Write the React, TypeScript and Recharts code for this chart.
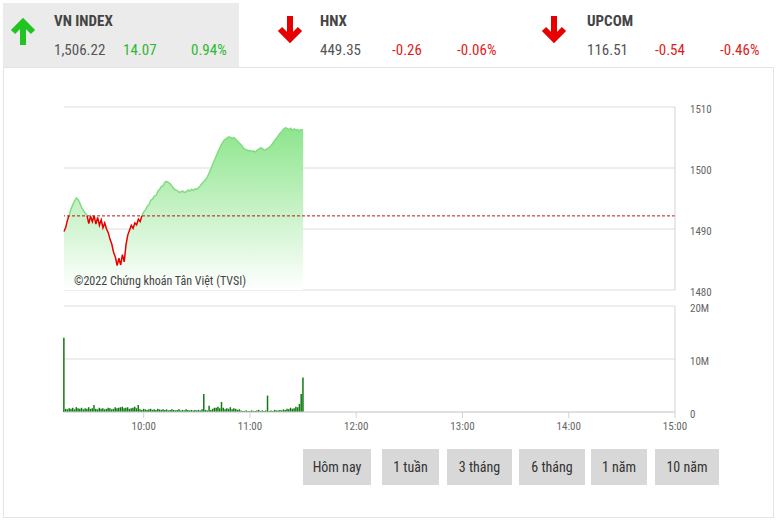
import React from "react";
import { Area, Bar, BarChart, CartesianGrid, ComposedChart, ReferenceLine, XAxis, YAxis } from "recharts";

const FONT = '"Roboto Condensed", "Liberation Sans Narrow", "DejaVu Sans Condensed", Roboto, sans-serif';

const prevClose = 1492.15;
const priceTicks = [1480, 1490, 1500, 1510];
const volumeTicks = [0, 10, 20];
const timeTicks = [600, 660, 720, 780, 840, 900];
const periods = ["Hôm nay", "1 tuần", "3 tháng", "6 tháng", "1 năm", "10 năm"];

// one value per minute from 9:15 to 11:30
const prices = [
  1489.6, 1490.3, 1491.5, 1492.4, 1493.3, 1494.0, 1494.6, 1495.1, 1494.8, 1494.2,
  1493.5, 1493.0, 1492.6, 1492.2, 1490.9, 1492.1, 1491.2, 1492.2, 1490.8, 1491.9,
  1490.6, 1491.5, 1490.2, 1491.0, 1490.0, 1489.4, 1488.3, 1487.5, 1486.2, 1485.4,
  1484.0, 1485.2, 1484.1, 1485.8, 1484.6, 1487.4, 1489.0, 1489.8, 1490.6, 1490.1,
  1491.0, 1490.7, 1491.6, 1491.2, 1492.2, 1492.8, 1493.1, 1493.7, 1494.0, 1494.7,
  1494.9, 1495.4, 1495.5, 1496.2, 1496.5, 1497.0, 1497.1, 1497.7, 1497.8, 1497.6,
  1497.4, 1497.0, 1496.6, 1496.4, 1496.3, 1496.0, 1496.1, 1496.2, 1496.0, 1496.1,
  1496.4, 1496.2, 1496.5, 1496.3, 1496.6, 1496.5, 1496.8, 1497.1, 1497.5, 1497.8,
  1498.1, 1498.6, 1499.2, 1499.9, 1500.6, 1501.3, 1502.0, 1502.7, 1503.3, 1503.9,
  1504.4, 1504.7, 1504.9, 1505.1, 1505.0, 1504.9, 1505.0, 1504.7, 1504.4, 1504.1,
  1503.8, 1503.4, 1503.1, 1503.0, 1502.8, 1502.9, 1502.7, 1502.8, 1502.6, 1502.9,
  1503.1, 1503.3, 1503.2, 1502.9, 1503.0, 1503.2, 1503.4, 1503.7, 1504.1, 1504.5,
  1504.9, 1505.3, 1505.7, 1506.0, 1506.4, 1506.6, 1506.5, 1506.3, 1506.5, 1506.2,
  1506.4, 1506.2, 1506.3, 1506.1, 1506.3, 1506.22,
];

// volume in millions, same minutes
const volumes = [
  14.0, 0.6, 0.5, 0.7, 0.6, 0.8, 0.5, 0.9, 0.7, 0.6, 0.8, 0.5, 0.7, 0.6, 0.9, 0.6,
  0.7, 1.3, 0.6, 0.5, 0.8, 0.6, 0.7, 0.5, 0.6, 0.8, 0.7, 0.5, 0.6, 0.9, 0.7,
  0.8, 0.9, 1.0, 0.7, 0.8, 0.9, 0.6, 0.7, 0.8, 1.0, 0.7, 1.3, 0.5, 0.4, 0.6,
  0.5, 0.4, 0.5, 0.6, 0.4, 0.5, 0.4, 0.6, 0.5, 0.4, 0.5, 0.4, 0.5, 0.3, 0.4,
  0.5, 0.4, 0.3, 0.4, 0.5, 0.3, 0.4, 0.3, 0.5, 0.4, 0.3, 0.4, 0.3, 0.4, 0.3,
  0.4, 0.3, 0.5, 3.4, 0.4, 0.3, 1.2, 0.4, 0.6, 0.8, 0.8, 1.0, 0.7, 1.9, 0.8,
  0.5, 0.7, 0.6, 0.9, 0.5, 0.7, 0.6, 0.4, 0.5, 0.3, 0.2, 0.2, 0.3, 0.2, 0.2,
  0.3, 0.2, 0.2, 0.3, 0.4, 0.2, 0.3, 0.2, 0.3, 3.1, 0.2, 0.3, 0.2, 0.4, 0.3,
  0.3, 0.4, 0.3, 0.5, 0.4, 0.6, 0.5, 0.8, 0.6, 0.7, 1.0, 0.9, 1.5, 3.4, 6.5,
];

const indices = [
  { name: "VN INDEX", value: "1,506.22", change: "14.07", pct: "0.94%", up: true },
  { name: "HNX", value: "449.35", change: "-0.26", pct: "-0.06%", up: false },
  { name: "UPCOM", value: "116.51", change: "-0.54", pct: "-0.46%", up: false },
];

const data = prices.map((p, i) => ({ t: 555 + i, price: p, vol: volumes[i] }));
const pMax = Math.max(...prices);
const pMin = Math.min(...prices);
const splitAt = (pMax - prevClose) / (pMax - pMin);

const fmtTime = (v: number) => `${Math.floor(v / 60)}:${String(v % 60).padStart(2, "0")}`;

function Arrow({ up, x, y }: { up: boolean; x: number; y: number }) {
  const c = up ? "#22c422" : "#e80000";
  return (
    <svg width={26} height={28} style={{ position: "absolute", left: x, top: y }}>
      {up ? (
        <g stroke={c} strokeWidth={6} fill="none">
          <line x1={13} y1={27} x2={13} y2={6} />
          <polyline points="3,14 13,4 23,14" strokeLinejoin="miter" />
        </g>
      ) : (
        <g stroke={c} strokeWidth={6} fill="none">
          <line x1={13} y1={1} x2={13} y2={22} />
          <polyline points="3,14 13,24 23,14" strokeLinejoin="miter" />
        </g>
      )}
    </svg>
  );
}

const headerCols = [
  { x: 54, arrowX: 10, arrowY: 18, c1: 123, c2: 191 },
  { x: 320, arrowX: 277, arrowY: 15, c1: 392, c2: 457 },
  { x: 587, arrowX: 541, arrowY: 15, c1: 655, c2: 720 },
];
const buttonPos = [[303, 371], [382, 439], [447, 512], [519, 585], [591, 647], [655, 719]];

export default function App() {
  return (
    <div style={{ position: "absolute", left: 0, top: 0, width: 777, height: 520, background: "#fff", fontFamily: FONT }}>
      <div style={{ position: "absolute", left: 3, top: 3, width: 236, height: 64, background: "#ebebeb" }} />
      <div style={{ position: "absolute", left: 3, top: 67, width: 769, height: 449, border: "1px solid #e4e4e4" }} />
      {indices.map((d, i) => {
        const col = headerCols[i];
        const color = d.up ? "#2fb82f" : "#e01b1b";
        return (
          <React.Fragment key={d.name}>
            <Arrow up={d.up} x={col.arrowX} y={col.arrowY} />
            <div style={{ position: "absolute", left: col.x, top: 12, fontSize: 15, fontWeight: "bold", color: "#444" }}>{d.name}</div>
            <div style={{ position: "absolute", left: col.x, top: 41, fontSize: 15, color: "#555" }}>{d.value}</div>
            <div style={{ position: "absolute", left: col.c1, top: 41, fontSize: 15, color }}>{d.change}</div>
            <div style={{ position: "absolute", left: col.c2, top: 41, fontSize: 15, color }}>{d.pct}</div>
          </React.Fragment>
        );
      })}

      <div style={{ position: "absolute", left: 0, top: 0 }}>
        <ComposedChart width={777} height={300} data={data} margin={{ top: 107, right: 62, bottom: 10, left: 64 }}>
          <defs>
            <linearGradient id="lineSplit" x1="0" y1="0" x2="0" y2="1">
              <stop offset={splitAt} stopColor="#82dc82" />
              <stop offset={splitAt} stopColor="#e80000" />
            </linearGradient>
            <linearGradient id="fillFade" x1="0" y1="0" x2="0" y2="1">
              <stop offset="0" stopColor="#8de58d" />
              <stop offset="1" stopColor="#ffffff" />
            </linearGradient>
          </defs>
          <CartesianGrid vertical={false} stroke="#dcdcdc" />
          <XAxis dataKey="t" type="number" domain={[555, 900]} hide />
          <YAxis
            orientation="right"
            domain={[1480, 1510]}
            ticks={priceTicks}
            width={40}
            axisLine={{ stroke: "#cfd3da" }}
            tickLine={false}
            tickSize={6}
            tickMargin={9}
            tick={{ fill: "#666", fontSize: 11, fontFamily: FONT, dy: 2 }}
          />
          <Area
            type="linear"
            dataKey="price"
            stroke="url(#lineSplit)"
            strokeWidth={1.5}
            fill="url(#fillFade)"
            fillOpacity={1}
            isAnimationActive={false}
            dot={false}
            activeDot={false}
          />
          <ReferenceLine y={prevClose} stroke="#b01818" strokeDasharray="3 2" />
        </ComposedChart>
      </div>
      <div style={{ position: "absolute", left: 74, top: 274, fontSize: 12, color: "#444" }}>©2022 Chứng khoán Tân Việt (TVSI)</div>

      <div style={{ position: "absolute", left: 0, top: 296 }}>
        <BarChart width={777} height={145} data={data} margin={{ top: 10, right: 62, bottom: 4, left: 64 }}>
          <CartesianGrid vertical={false} stroke="#dcdcdc" />
          <XAxis
            dataKey="t"
            type="number"
            domain={[555, 900]}
            ticks={timeTicks}
            tickFormatter={fmtTime}
            height={25}
            axisLine={{ stroke: "#cfd3da" }}
            tickLine={{ stroke: "#cfd3da" }}
            tickMargin={4}
            tick={{ fill: "#666", fontSize: 11, fontFamily: FONT }}
          />
          <YAxis
            orientation="right"
            domain={[0, 20]}
            ticks={volumeTicks}
            tickFormatter={(v: number) => (v === 0 ? "0" : `${v}M`)}
            width={40}
            axisLine={{ stroke: "#cfd3da" }}
            tickLine={false}
            tickSize={6}
            tickMargin={9}
            tick={{ fill: "#666", fontSize: 11, fontFamily: FONT, dy: 2 }}
          />
          <Bar dataKey="vol" fill="#107a10" barSize={1.5} isAnimationActive={false} />
        </BarChart>
      </div>

      {periods.map((p, i) => (
        <div
          key={p}
          style={{
            position: "absolute",
            left: buttonPos[i][0],
            top: 449,
            width: buttonPos[i][1] - buttonPos[i][0],
            height: 36,
            background: "#d8d8d8",
            color: "#333",
            fontSize: 14,
            display: "flex",
            alignItems: "center",
            justifyContent: "center",
          }}
        >
          {p}
        </div>
      ))}
    </div>
  );
}
